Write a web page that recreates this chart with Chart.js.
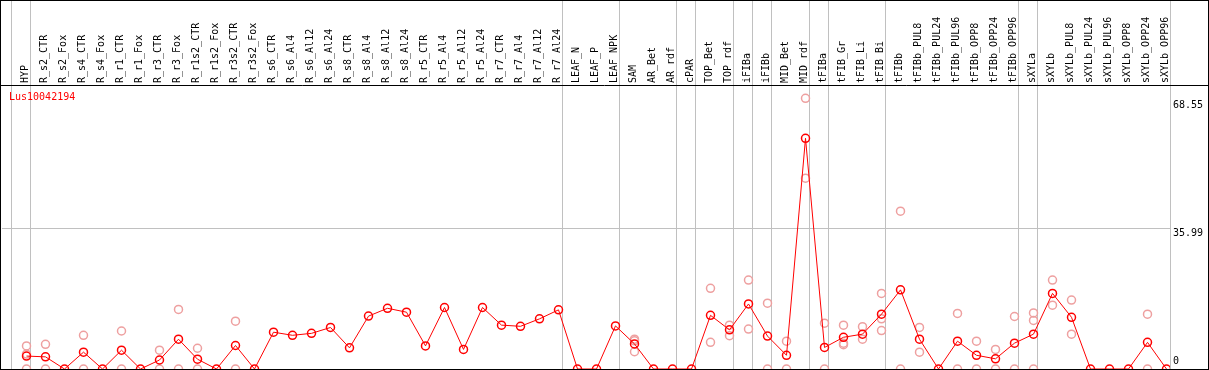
<!DOCTYPE html>
<html>
<head>
<meta charset="utf-8">
<script src="https://cdn.jsdelivr.net/npm/chart.js@4"></script>
<style>
  body { margin: 0; background: #fff; }
  canvas { display: block; }
</style>
</head>
<body>
<canvas id="geneChart" width="1209" height="370"></canvas>
<script>
const geneName = 'Lus10042194';

const samples = [
    'HYP', 'R_s2_CTR', 'R_s2_Fox', 'R_s4_CTR', 'R_s4_Fox', 'R_r1_CTR', 'R_r1_Fox', 'R_r3_CTR', 'R_r3_Fox',
    'R_r1s2_CTR', 'R_r1s2_Fox', 'R_r3s2_CTR', 'R_r3s2_Fox',
    'R_s6_CTR', 'R_s6_Al4', 'R_s6_Al12', 'R_s6_Al24', 'R_s8_CTR', 'R_s8_Al4', 'R_s8_Al12', 'R_s8_Al24',
    'R_r5_CTR', 'R_r5_Al4', 'R_r5_Al12', 'R_r5_Al24', 'R_r7_CTR', 'R_r7_Al4', 'R_r7_Al12', 'R_r7_Al24',
    'LEAF_N', 'LEAF_P', 'LEAF_NPK', 'SAM', 'AR_Bet', 'AR_rdf', 'cPAR', 'TOP_Bet', 'TOP_rdf',
    'iFIBa', 'iFIBb', 'MID_Bet', 'MID_rdf', 'tFIBa', 'tFIB_Gr', 'tFIB_Li', 'tFIB_Bi', 'tFIBb',
    'tFIBb_PUL8', 'tFIBb_PUL24', 'tFIBb_PUL96', 'tFIBb_OPP8', 'tFIBb_OPP24', 'tFIBb_OPP96',
    'sXYLa', 'sXYLb', 'sXYLb_PUL8', 'sXYLb_PUL24', 'sXYLb_PUL96', 'sXYLb_OPP8', 'sXYLb_OPP24', 'sXYLb_OPP96'
];

const meanValues = [
    3.3, 3.1, 0, 4.3, 0, 4.8, 0, 2.3, 7.6, 2.5, 0, 6.0, 0,
    9.4, 8.6, 9.1, 10.6, 5.4, 13.5, 15.5, 14.5,
    5.9, 15.7, 5.0, 15.7, 11.2, 10.9, 12.8, 15.1,
    0, 0, 11.0, 6.4, 0, 0, 0, 13.7, 10.0,
    16.6, 8.4, 3.5, 58.9, 5.5, 8.1, 8.9, 14.0, 20.2,
    7.6, 0, 7.1, 3.5, 2.6, 6.6,
    8.9, 19.3, 13.2, 0, 0, 0, 6.8, 0
];

// individual replicates (only the ones visible in the picture)
const replicateValues = [
    [5.9, 3.8, 0], [6.3, 0], [], [8.6, 0], [], [9.7, 0], [], [4.8, 0], [15.2, 0],
    [5.3, 0], [], [12.2, 0], [],
    [], [], [], [], [], [], [], [],
    [], [], [], [], [], [], [], [],
    [], [], [], [7.6, 7.2, 4.4], [], [], [], [20.6, 6.8], [11.2, 8.5],
    [22.7, 10.2], [16.8, 0], [7.1, 0], [69.1, 48.7], [11.7, 0], [11.2, 6.6, 6.2], [10.8, 7.6], [19.3, 12.8, 9.8], [40.3, 0],
    [10.6, 4.3], [], [14.2, 0], [7.1, 0], [5.0, 0], [13.4, 0],
    [14.3, 12.4, 0], [22.7, 16.3], [17.6, 8.9], [], [], [], [14.0, 0], []
];

// last sample index of each group (vertical separators), -1 = left edge
const groupEnds = [-1, 0, 28, 31, 34, 35, 37, 38, 39, 41, 42, 45, 52, 53, 60];

const yTickValues = [0, 35.99, 68.55];
const yMax = 72.5;

const monoFont = { family: 'DejaVu Sans Mono', size: 10 };

const meanPoints = meanValues.map((v, i) => ({ x: i, y: v }));
const repPoints = [];
replicateValues.forEach((reps, i) => reps.forEach(v => repPoints.push({ x: i, y: v })));

const framePlugin = {
    id: 'frame',
    beforeDatasetsDraw(chart) {
        const ctx = chart.ctx;
        const x = chart.scales.x;
        ctx.save();
        ctx.strokeStyle = '#c0c0c0';
        ctx.lineWidth = 1;
        groupEnds.forEach(g => {
            const px = Math.round(x.getPixelForValue(g + 0.2)) + 0.5;
            ctx.beginPath();
            ctx.moveTo(px, 0);
            ctx.lineTo(px, chart.chartArea.bottom);
            ctx.stroke();
        });
        ctx.restore();
    },
    afterDraw(chart) {
        const ctx = chart.ctx;
        const area = chart.chartArea;
        const y = chart.scales.y;
        ctx.save();
        ctx.strokeStyle = '#000';
        ctx.lineWidth = 1;
        ctx.strokeRect(0.5, 0.5, chart.width - 1, chart.height - 1);
        ctx.beginPath();
        ctx.moveTo(0, Math.round(area.top) + 0.5);
        ctx.lineTo(chart.width, Math.round(area.top) + 0.5);
        ctx.stroke();

        ctx.font = '10px "DejaVu Sans Mono"';
        ctx.fillStyle = '#ff0000';
        ctx.textAlign = 'left';
        ctx.textBaseline = 'top';
        ctx.fillText(geneName, 9, 92);

        ctx.fillStyle = '#000';
        yTickValues.forEach(v => {
            const py = y.getPixelForValue(v);
            if (py + 12 > area.bottom) {
                ctx.textBaseline = 'bottom';
                ctx.fillText(String(v), area.right + 3, area.bottom - 3);
            } else {
                ctx.textBaseline = 'top';
                ctx.fillText(String(v), area.right + 3, py);
            }
        });
        ctx.restore();
    }
};

new Chart(document.getElementById('geneChart'), {
    type: 'line',
    data: {
        datasets: [{
            label: 'mean',
            data: meanPoints,
            borderColor: '#ff0000',
            borderWidth: 1,
            pointRadius: 4,
            pointBorderWidth: 1.5,
            pointBorderColor: '#ff0000',
            pointBackgroundColor: 'rgba(0,0,0,0)',
            fill: false,
            tension: 0,
            order: 0
        }, {
            label: 'replicates',
            data: repPoints,
            showLine: false,
            pointRadius: 4,
            pointBorderWidth: 1.5,
            pointBorderColor: '#eea0a0',
            pointBackgroundColor: 'rgba(0,0,0,0)',
            order: 1
        }]
    },
    options: {
        responsive: false,
        animation: false,
        events: [],
        layout: { autoPadding: false, padding: { left: 2, right: 0, top: 0, bottom: 1 } },
        plugins: {
            legend: { display: false },
            tooltip: { enabled: false }
        },
        scales: {
            x: {
                type: 'linear',
                position: 'top',
                min: -24.5 / 19,
                max: (1170 - 26.5) / 19,
                afterBuildTicks: s => { s.ticks = samples.map((_, i) => ({ value: i })); },
                afterFit: s => { s.height = 85; s.paddingLeft = 0; s.paddingRight = 0; },
                ticks: {
                    autoSkip: false,
                    minRotation: 90,
                    maxRotation: 90,
                    padding: 2,
                    labelOffset: 11,
                    color: '#000',
                    font: monoFont,
                    callback: v => samples[v]
                },
                grid: { display: false, drawTicks: false },
                border: { display: false }
            },
            y: {
                position: 'right',
                min: 0,
                max: yMax,
                afterBuildTicks: s => { s.ticks = yTickValues.map(v => ({ value: v })); },
                afterFit: s => { s.width = 39; s.paddingTop = 0; s.paddingBottom = 0; },
                ticks: { display: false },
                grid: {
                    drawTicks: false,
                    color: c => (c.tick && c.tick.value === 35.99) ? '#c0c0c0' : 'rgba(0,0,0,0)'
                },
                border: { display: false }
            }
        }
    },
    plugins: [framePlugin]
});
</script>
</body>
</html>
